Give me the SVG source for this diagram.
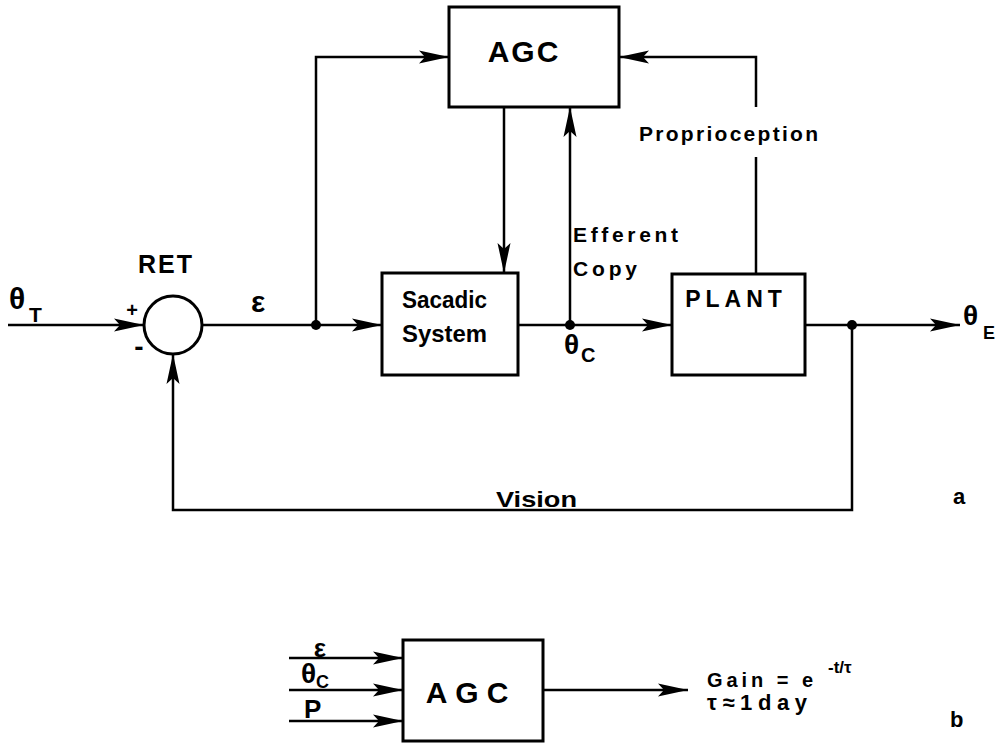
<svg xmlns="http://www.w3.org/2000/svg" width="1002" height="746" viewBox="0 0 1002 746">
<style>
.ln{fill:none;stroke:#000;stroke-width:2.5}
.bx{fill:#fff;stroke:#000;stroke-width:3}
.t{font-family:"Liberation Sans",Arial,sans-serif;fill:#000;font-weight:bold}
</style>
<defs>
<marker id="arr" viewBox="-32 -8 34 16" refX="0" refY="0" markerWidth="34" markerHeight="16" markerUnits="userSpaceOnUse" orient="auto">
<path d="M0,0 L-30,-6.5 L-24,0 L-30,6.5 Z" fill="#000"/>
</marker>
</defs>
<rect width="1002" height="746" fill="#fff"/>
<g id="connectors">
<line class="ln" x1="8" y1="325" x2="144" y2="325" marker-end="url(#arr)"/>
<line class="ln" x1="202" y1="325" x2="382" y2="325" marker-end="url(#arr)"/>
<path class="ln" d="M316,325 V57 H449" marker-end="url(#arr)"/>
<line class="ln" x1="504" y1="107" x2="504" y2="273" marker-end="url(#arr)"/>
<line class="ln" x1="518" y1="325" x2="672" y2="325" marker-end="url(#arr)"/>
<line class="ln" x1="570" y1="325" x2="570" y2="107" marker-end="url(#arr)"/>
<line class="ln" x1="756" y1="274" x2="756" y2="157"/>
<path class="ln" d="M756,107 V57 H619" marker-end="url(#arr)"/>
<line class="ln" x1="805" y1="325" x2="960" y2="325" marker-end="url(#arr)"/>
<path class="ln" d="M852,325 V510 H173 V354" marker-end="url(#arr)"/>
<circle cx="316" cy="325" r="5"/>
<circle cx="570" cy="325" r="5"/>
<circle cx="852" cy="325" r="5"/>
<line class="ln" x1="289" y1="658" x2="403" y2="658" marker-end="url(#arr)"/>
<line class="ln" x1="289" y1="690" x2="403" y2="690" marker-end="url(#arr)"/>
<line class="ln" x1="289" y1="721" x2="403" y2="721" marker-end="url(#arr)"/>
<line class="ln" x1="543" y1="690" x2="688" y2="690" marker-end="url(#arr)"/>
</g>
<g id="ret">
<circle cx="173" cy="325" r="29" fill="#fff" stroke="#000" stroke-width="3"/>
<text class="t" x="166" y="273" font-size="25" text-anchor="middle" letter-spacing="2">RET</text>
<text class="t" x="132" y="317" font-size="20" text-anchor="middle">+</text>
<text class="t" x="139" y="356" font-size="28" text-anchor="middle">-</text>
</g>
<g id="agc-top">
<rect class="bx" x="449" y="7" width="170" height="100"/>
<text class="t" x="524" y="62" font-size="30" text-anchor="middle" letter-spacing="2">AGC</text>
</g>
<g id="sacadic">
<rect class="bx" x="382" y="273" width="136" height="102"/>
<text class="t" x="402" y="308" font-size="24" textLength="85" lengthAdjust="spacingAndGlyphs">Sacadic</text>
<text class="t" x="402" y="342" font-size="24" textLength="85" lengthAdjust="spacingAndGlyphs">System</text>
</g>
<g id="plant">
<rect class="bx" x="672" y="274" width="133" height="101"/>
<text class="t" x="736" y="307" font-size="23" text-anchor="middle" letter-spacing="5">PLANT</text>
</g>
<g id="labels">
<text class="t" x="9" y="309" font-size="30">θ</text>
<text class="t" x="29" y="322" font-size="21">T</text>
<text class="t" x="258" y="312" font-size="30" text-anchor="middle">ε</text>
<text class="t" x="564" y="354" font-size="28">θ</text>
<text class="t" x="581" y="362" font-size="20">C</text>
<text class="t" x="573" y="242" font-size="21" textLength="105" lengthAdjust="spacing">Efferent</text>
<text class="t" x="573" y="276" font-size="21" textLength="64" lengthAdjust="spacing">Copy</text>
<text class="t" x="639" y="141" font-size="21" textLength="179" lengthAdjust="spacing">Proprioception</text>
<text class="t" x="963" y="325" font-size="28">θ</text>
<text class="t" x="983" y="339" font-size="18">E</text>
<text class="t" x="496" y="507" font-size="22" textLength="81" lengthAdjust="spacingAndGlyphs">Vision</text>
<text class="t" x="953" y="504" font-size="22">a</text>
</g>
<g id="agc-b">
<rect class="bx" x="403" y="640" width="140" height="101"/>
<text class="t" x="471" y="703" font-size="30" text-anchor="middle" letter-spacing="8">AGC</text>
<text class="t" x="320" y="657" font-size="26" text-anchor="middle">ε</text>
<text class="t" x="301" y="683" font-size="28">θ</text>
<text class="t" x="316" y="688" font-size="18">C</text>
<text class="t" x="304" y="718" font-size="26">P</text>
<text class="t" x="707" y="687" font-size="20" textLength="106" lengthAdjust="spacing">Gain = e</text>
<text class="t" x="828" y="673" font-size="17">-t/τ</text>
<text class="t" x="707" y="710" font-size="22" textLength="100" lengthAdjust="spacing">τ≈1day</text>
<text class="t" x="950" y="727" font-size="22">b</text>
</g>
</svg>
